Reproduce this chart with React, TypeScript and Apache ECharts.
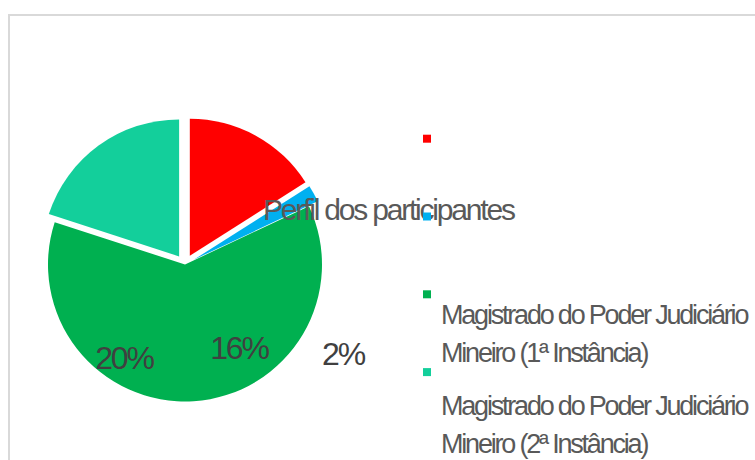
import React, { useEffect, useRef } from 'react';
import * as echarts from 'echarts';

const TITLE = 'Perfil dos participantes';
const CATEGORIES = [
  ' ',
  '  ',
  'Magistrado do Poder Judiciário Mineiro (1ª Instância)',
  'Magistrado do Poder Judiciário Mineiro (2ª Instância)',
];
const VALUES = [16, 2, 62, 20];
const COLORS = ['#FF0000', '#00B0F0', '#00B050', '#13CF9B'];
const EXPLODED = [true, true, false, true];
const SHOW_LABEL = [true, true, false, true];
const LABEL_SPOTS = [
  [239, 347.5],
  [343, 353.5],
  [0, 0],
  [124, 358],
];
const LEGEND_PAD = [
  [62, 0, 62, 5],
  [62, 0, 62, 5],
  [102.2, 0, 21.8, 5],
  [115.3, 0, 8.7, 5],
];

const FONT = "'Liberation Sans', Arial, sans-serif";

export default function App() {
  const ref = useRef<HTMLDivElement>(null);
  useEffect(() => {
    if (!ref.current) return;
    const chart = echarts.init(ref.current, undefined, { renderer: 'svg' });
    const total = VALUES.reduce((a, b) => a + b, 0);
    const labelTexts = VALUES.map((v, i) =>
      SHOW_LABEL[i]
        ? {
            type: 'text',
            silent: true,
            z: 8,
            style: {
              text: Math.round((v / total) * 100) + '%',
              x: LABEL_SPOTS[i][0],
              y: LABEL_SPOTS[i][1],
              align: 'center',
              verticalAlign: 'middle',
              fontFamily: FONT,
              fontSize: 32,
              fill: '#404040',
            },
          }
        : null
    ).filter(Boolean);
    chart.setOption({
      animation: false,
      backgroundColor: '#ffffff',
      graphic: [
        {
          type: 'rect',
          silent: true,
          z: -10,
          shape: { x: 9, y: 15, width: 800, height: 500 },
          style: { fill: 'none', stroke: '#d9d9d9', lineWidth: 2 },
        },
        ...labelTexts,
      ],
      title: {
        text: TITLE,
        left: 263,
        top: 194,
        padding: 0,
        z: 6,
        textStyle: { fontFamily: FONT, fontSize: 30, fontWeight: 'normal', color: '#595959' },
      },
      legend: {
        orient: 'vertical',
        left: 423,
        top: 38.7,
        height: 700,
        padding: 0,
        z: 7,
        icon: 'rect',
        itemWidth: 8,
        itemHeight: 8,
        itemGap: 77.8 - 200,
        selectedMode: false,
        formatter: (name: string) => {
          if (name.trim() === '') return '{a| }\n{a| }';
          const parts = name.split(' Mineiro');
          return '{a|' + parts[0] + '}\n{a|Mineiro' + parts[1] + '}';
        },
        textStyle: {
          fontFamily: FONT,
          fontSize: 27,
          color: '#595959',
          backgroundColor: 'rgba(0,0,0,0)',
          rich: {
            a: { fontFamily: FONT, fontSize: 27, lineHeight: 38, color: '#595959' },
          },
        },
        data: CATEGORIES.map((c, i) => ({
          name: c,
          textStyle: { padding: LEGEND_PAD[i] },
        })),
      },
      series: [
        {
          type: 'pie',
          center: [185, 264.5],
          radius: 137,
          startAngle: 90,
          clockwise: true,
          selectedMode: 'multiple',
          selectedOffset: 10,
          emphasis: { disabled: true },
          label: { show: false },
          labelLine: { show: false },
          data: VALUES.map((v, i) => ({
            name: CATEGORIES[i],
            value: v,
            selected: EXPLODED[i],
            itemStyle: { color: COLORS[i] },
          })),
        },
      ],
    });
    return () => chart.dispose();
  }, []);
  return (
    <>
      <style>{`.pie-chart svg text { letter-spacing: -2.2px; }`}</style>
      <div
        ref={ref}
        className="pie-chart"
        style={{ position: 'absolute', left: 0, top: 0, width: 755, height: 460 }}
      />
    </>
  );
}
